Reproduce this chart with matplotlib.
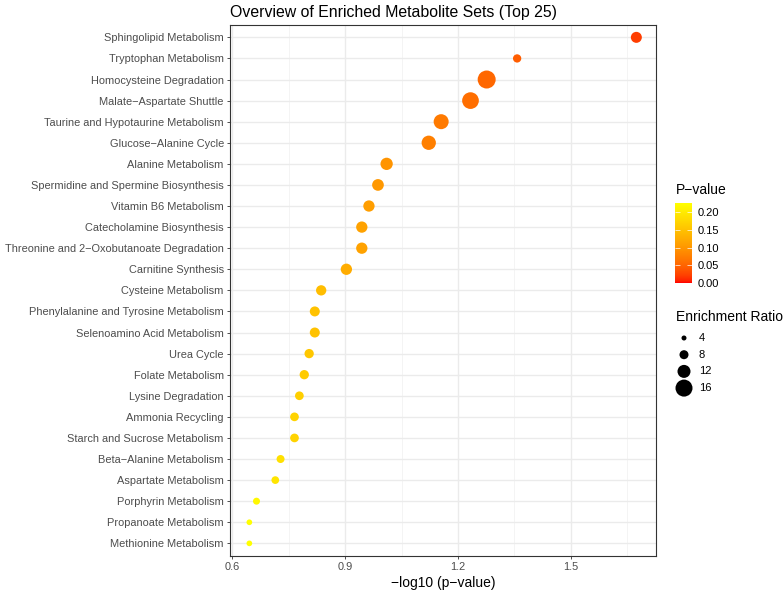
import numpy as np
import matplotlib
matplotlib.use("Agg")
import matplotlib.pyplot as plt
from matplotlib.colors import ListedColormap, Normalize
from matplotlib.cm import ScalarMappable

plt.rcParams["font.family"] = ["Liberation Sans", "DejaVu Sans"]

# data (top row first)
pathways = [
    "Sphingolipid Metabolism",
    "Tryptophan Metabolism",
    "Homocysteine Degradation",
    "Malate\u2212Aspartate Shuttle",
    "Taurine and Hypotaurine Metabolism",
    "Glucose\u2212Alanine Cycle",
    "Alanine Metabolism",
    "Spermidine and Spermine Biosynthesis",
    "Vitamin B6 Metabolism",
    "Catecholamine Biosynthesis",
    "Threonine and 2\u2212Oxobutanoate Degradation",
    "Carnitine Synthesis",
    "Cysteine Metabolism",
    "Phenylalanine and Tyrosine Metabolism",
    "Selenoamino Acid Metabolism",
    "Urea Cycle",
    "Folate Metabolism",
    "Lysine Degradation",
    "Ammonia Recycling",
    "Starch and Sucrose Metabolism",
    "Beta\u2212Alanine Metabolism",
    "Aspartate Metabolism",
    "Porphyrin Metabolism",
    "Propanoate Metabolism",
    "Methionine Metabolism",
]
neg_log_p = [1.674, 1.357, 1.276, 1.233, 1.155, 1.122, 1.010, 0.987, 0.963,
             0.944, 0.944, 0.903, 0.836, 0.819, 0.819, 0.804, 0.791, 0.778,
             0.765, 0.765, 0.728, 0.714, 0.664, 0.645, 0.645]
enrichment = [10.0, 7.3, 17.0, 15.7, 14.0, 13.3, 11.3, 10.7, 10.3,
              10.3, 10.3, 10.3, 9.3, 9.0, 9.0, 8.3, 8.3, 7.7,
              7.7, 7.7, 7.0, 6.7, 6.0, 4.7, 4.7]
size_breaks = [4, 8, 12, 16]
p_breaks = [0.00, 0.05, 0.10, 0.15, 0.20]

p_values = 10 ** -np.array(neg_log_p)

DPI = 100
W, H = 784, 592


# red -> yellow gradient interpolated in Lab, like ggplot's scale_colour_gradient
M = np.array([[0.4124, 0.3576, 0.1805],
              [0.2126, 0.7152, 0.0722],
              [0.0193, 0.1192, 0.9505]])
WHITE = np.array([0.95047, 1.0, 1.08883])


def to_lab(rgb):
    c = np.asarray(rgb, float)
    lin = np.where(c > 0.04045, ((c + 0.055) / 1.055) ** 2.4, c / 12.92)
    xyz = M @ lin / WHITE
    f = np.where(xyz > 0.008856, np.cbrt(xyz), 7.787 * xyz + 16 / 116)
    return np.array([116 * f[1] - 16, 500 * (f[0] - f[1]), 200 * (f[1] - f[2])])


def from_lab(lab):
    fy = (lab[:, 0] + 16) / 116
    f = np.stack([fy + lab[:, 1] / 500, fy, fy - lab[:, 2] / 200], axis=1)
    xyz = np.where(f > 0.2069, f ** 3, (f - 16 / 116) / 7.787) * WHITE
    lin = np.clip(xyz @ np.linalg.inv(M).T, 0, None)
    rgb = np.where(lin > 0.0031308, 1.055 * lin ** (1 / 2.4) - 0.055, 12.92 * lin)
    return np.clip(rgb, 0, 1)


t = np.linspace(0, 1, 256)[:, None]
lab = (1 - t) * to_lab([1, 0, 0]) + t * to_lab([1, 1, 0])
cmap = ListedColormap(from_lab(lab))
norm = Normalize(0, p_values.max())


def marker_area(ratio):
    d_px = np.asarray(ratio, float) + 1.0
    return (d_px * 72 / DPI) ** 2


fig = plt.figure(figsize=(W / DPI, H / DPI), dpi=DPI)
left, right, top, bottom = 230, 655.7, 24.7, 556
ax = fig.add_axes([left / W, 1 - bottom / H, (right - left) / W, (bottom - top) / H])

n = len(pathways)
ypos = np.arange(n)[::-1]
ax.scatter(neg_log_p, ypos, s=marker_area(enrichment), c=p_values,
           cmap=cmap, norm=norm, linewidths=0, zorder=3)

span = max(neg_log_p) - min(neg_log_p)
ax.set_xlim(min(neg_log_p) - 0.05 * span, max(neg_log_p) + 0.05 * span)
ax.set_ylim(-0.6, n - 0.4)
ax.set_xticks([0.6, 0.9, 1.2, 1.5])
ax.set_xticks([0.75, 1.05, 1.35, 1.65], minor=True)
ax.set_yticks(ypos, pathways)
ax.grid(True, which="major", color="#EBEBEB", linewidth=1.0, zorder=0)
ax.grid(True, which="minor", axis="x", color="#F2F2F2", linewidth=0.6, zorder=0)
ax.set_axisbelow(True)
ax.tick_params(which="major", length=2.5, width=0.6, color="#333333",
               labelsize=7.9, labelcolor="#4D4D4D", pad=2)
ax.tick_params(which="minor", length=0)
for sp in ax.spines.values():
    sp.set_color("#333333")
    sp.set_linewidth(0.8)
ax.set_xlabel("\u2212log10 (p\u2212value)", fontsize=10, labelpad=3)

fig.text(left / W, 1 - 12 / H, "Overview of Enriched Metabolite Sets (Top 25)",
         fontsize=11.4, ha="left", va="center")

# colour legend
cax = fig.add_axes([675 / W, 1 - 283 / H, 17 / W, 80 / H])
cb = fig.colorbar(ScalarMappable(norm=norm, cmap=cmap), cax=cax)
cb.outline.set_visible(False)
cb.set_ticks(p_breaks)
cb.set_ticklabels([f"{v:.2f}" for v in p_breaks])
cax.tick_params(left=True, right=True, direction="in", color="white",
                length=3.4, width=0.5, labelsize=8, pad=4)
cax.minorticks_off()

# size legend and legend titles in pixel coordinates
lax = fig.add_axes([0, 0, 1, 1])
lax.set_xlim(0, W)
lax.set_ylim(H, 0)
lax.axis("off")
lax.text(676, 190, "P\u2212value", fontsize=10, va="center")
lax.text(676, 317, "Enrichment Ratio", fontsize=10, va="center")
key_y = 338 + 16.7 * np.arange(len(size_breaks))
lax.scatter(np.full(len(size_breaks), 684), key_y, s=marker_area(size_breaks),
            color="black", linewidths=0)
for y, b in zip(key_y, size_breaks):
    lax.text(699, y, str(b), fontsize=8, va="center")

fig.savefig("out.png", dpi=DPI)
